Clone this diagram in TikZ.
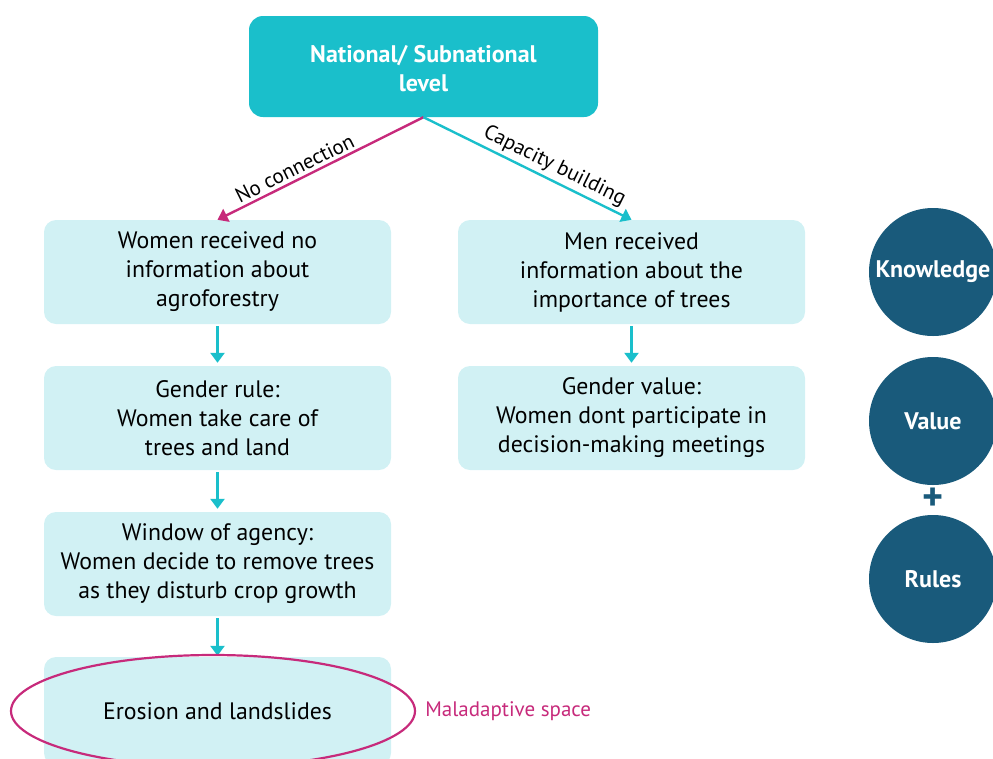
\documentclass[tikz,border=0pt]{standalone}
\usepackage{fontspec}
\setmainfont{PT Sans}
\usetikzlibrary{arrows.meta,shapes.geometric}
\definecolor{topcyan}{HTML}{1ABFCB}
\definecolor{boxfill}{HTML}{D1F1F4}
\definecolor{magline}{HTML}{C72A7B}
\definecolor{circblue}{HTML}{195A7B}
\begin{document}
\begin{tikzpicture}[x=1pt,y=-1pt,
  topbox/.style={rounded corners=14pt, fill=topcyan, text=white, minimum width=349pt,
    minimum height=101pt, align=center, font=\fontsize{24}{29}\selectfont\bfseries},
  infobox/.style={rounded corners=12pt, fill=boxfill, text=black, minimum width=347pt,
    minimum height=104pt, align=center, inner sep=0pt, font=\fontsize{23.8}{29}\selectfont},
  factor/.style={circle, fill=circblue, text=white, minimum size=128pt, inner sep=0pt,
    font=\fontsize{24}{28}\selectfont\bfseries},
  cyanarrow/.style={draw=topcyan, line width=2.4pt, -{Triangle[length=10pt,width=14pt]}},
  magarrow/.style={draw=magline, line width=2.4pt, -{Triangle[length=10pt,width=14pt]}},
  edgelabel/.style={font=\fontsize{21}{23}\selectfont, inner sep=3pt}
]
\useasboundingbox (0,0) rectangle (993,758);

% top level
\node[topbox] (top) at (423.5,66.5) {};
\node[text=white, align=center, font=\fontsize{24}{29}\selectfont\bfseries] (toptext) at (423.5,68.5) {National/ Subnational\\level};

% left column
\node[infobox] (l1) at (217.5,272) {Women received no\\information about\\agroforestry};
\node[infobox] (l2) at (217.5,418) {Gender rule:\\Women take care of\\trees and land};
\node[infobox] (l3) at (217.5,564) {Window of agency:\\Women decide to remove trees\\as they disturb crop growth};
\node[infobox, minimum height=108pt] (l4) at (217.5,711) {Erosion and landslides};

% right column
\node[infobox] (r1) at (631.5,272) {Men received\\information about the\\importance of trees};
\node[infobox] (r2) at (631.5,418) {Gender value:\\Women dont participate in\\decision-making meetings};

% factors
\node[factor] (know) at (933,272) {Knowledge};
\node[factor] (val) at (933,421) {Value};
\node[factor] (rul) at (933,579) {Rules};
\node[text=circblue, font=\fontsize{40}{40}\selectfont\bfseries, inner sep=0pt] (plus) at (933,499) {+};

% connectors
\draw[magarrow] (top.south) -- node[edgelabel, sloped, above, pos=0.6] {No connection} (l1.north);
\draw[cyanarrow] (top.south) -- node[edgelabel, sloped, above, pos=0.6] {Capacity building} (r1.north);
\draw[cyanarrow, shorten <=2pt, shorten >=3pt] (l1.south) -- (l2.north);
\draw[cyanarrow, shorten <=2pt, shorten >=3pt] (l2.south) -- (l3.north);
\draw[cyanarrow, shorten <=2pt, shorten >=1pt] (l3.south) -- (l4.north);
\draw[cyanarrow, shorten <=2pt, shorten >=3pt] (r1.south) -- (r2.north);

% maladaptive space
\node[ellipse, draw=magline, line width=2.2pt, minimum width=404pt, minimum height=112pt, inner sep=0pt] (mal) at (213,711) {};
\node[anchor=west, text=magline, font=\fontsize{21}{23}\selectfont, inner sep=0pt] (malt) at ([xshift=9pt]mal.east) {Maladaptive space};
\end{tikzpicture}
\end{document}
